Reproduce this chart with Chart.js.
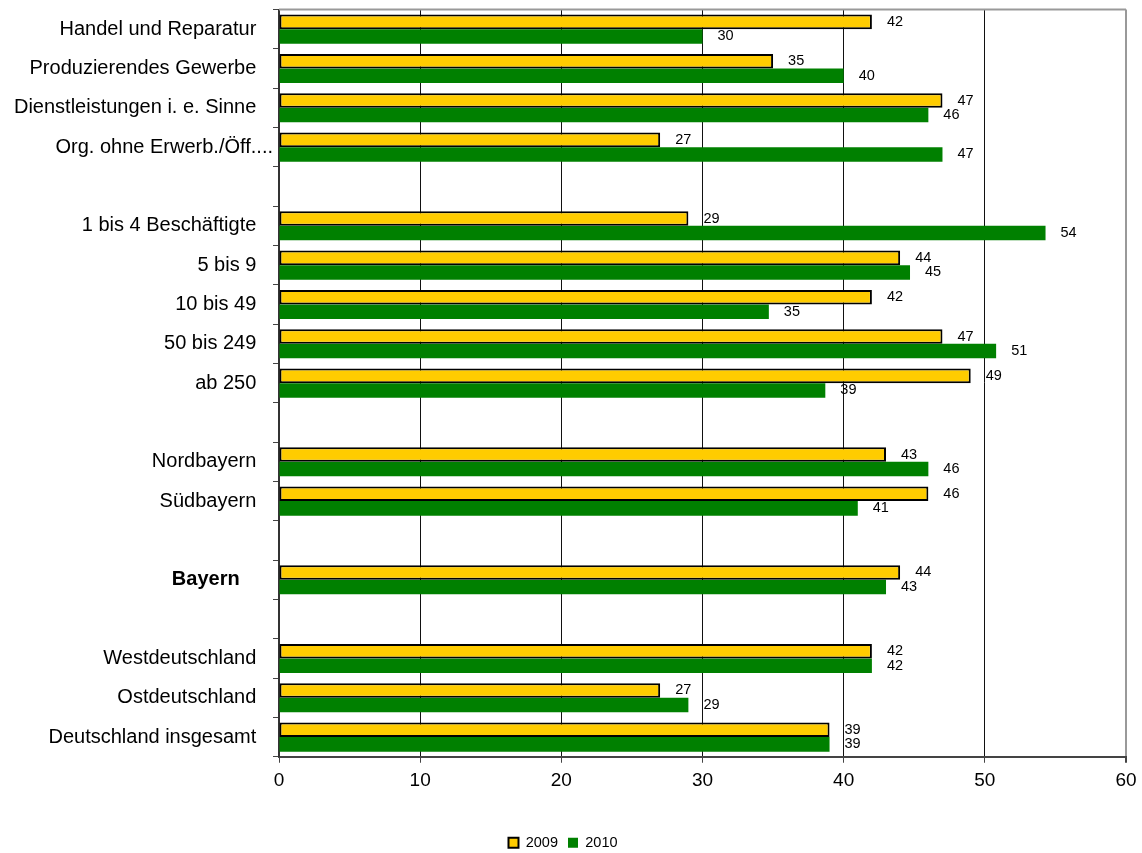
<!DOCTYPE html>
<html>
<head>
<meta charset="utf-8">
<script src="https://cdn.jsdelivr.net/npm/chart.js@4/dist/chart.umd.min.js"></script>
<style>
html,body{margin:0;padding:0;background:#fff;}
#wrap{width:1142px;height:853px;position:relative;}
</style>
</head>
<body>
<div id="wrap"><canvas id="c" width="1142" height="853"></canvas></div>
<script>
const categories = [
  "Handel und Reparatur   ",
  "Produzierendes Gewerbe   ",
  "Dienstleistungen i. e. Sinne   ",
  "Org. ohne Erwerb./Öff....",
  "",
  "1 bis 4 Beschäftigte   ",
  "5 bis 9   ",
  "10 bis 49   ",
  "50 bis 249   ",
  "ab 250   ",
  "",
  "Nordbayern   ",
  "Südbayern   ",
  "",
  "Bayern      ",
  "",
  "Westdeutschland   ",
  "Ostdeutschland   ",
  "Deutschland insgesamt   "
];
const seriesNames = ["2009", "2010"];
const values2009 = [42, 35, 47, 27, null, 29, 44, 42, 47, 49, null, 43, 46, null, 44, null, 42, 27, 39];
const values2010 = [30, 40, 46, 47, null, 54.3, 44.7, 34.7, 50.8, 38.7, null, 46, 41, null, 43, null, 42, 29, 39];
const xTicks = [0, 10, 20, 30, 40, 50, 60];
const boldCategory = "Bayern";

const FONT = "'Liberation Sans', Arial, sans-serif";

const valueLabels = {
  id: 'valueLabels',
  afterDatasetsDraw(chart) {
    const ctx = chart.ctx;
    ctx.save();
    ctx.font = "14.5px " + FONT;
    ctx.fillStyle = "#000";
    ctx.textAlign = "left";
    ctx.textBaseline = "middle";
    chart.data.datasets.forEach((ds, di) => {
      const meta = chart.getDatasetMeta(di);
      meta.data.forEach((el, i) => {
        const v = ds.data[i];
        if (v === null || v === undefined) return;
        ctx.fillText(String(Math.round(v)), el.x + 15, el.y);
      });
    });
    ctx.restore();
  }
};

const frame = {
  id: 'frame',
  beforeDatasetsDraw(chart) {
    const a = chart.chartArea;
    const ctx = chart.ctx;
    ctx.save();
    ctx.strokeStyle = "#999";
    ctx.lineWidth = 2;
    ctx.beginPath();
    ctx.moveTo(a.left, a.top);
    ctx.lineTo(a.right, a.top);
    ctx.stroke();
    ctx.restore();
  }
};

new Chart(document.getElementById('c'), {
  type: 'bar',
  data: {
    labels: categories,
    datasets: [
      {
        label: seriesNames[0],
        data: values2009,
        backgroundColor: '#FFCC00',
        borderColor: '#000000',
        borderWidth: 2,
        borderSkipped: false,
        categoryPercentage: 0.74,
        barPercentage: 1.0
      },
      {
        label: seriesNames[1],
        data: values2010,
        backgroundColor: '#008000',
        borderColor: '#008000',
        borderWidth: 0,
        categoryPercentage: 0.74,
        barPercentage: 1.0
      }
    ]
  },
  options: {
    indexAxis: 'y',
    responsive: false,
    animation: false,
    layout: { padding: { top: 9.5, right: 16, bottom: -7, left: 0 } },
    plugins: {
      legend: {
        position: 'bottom',
        labels: {
          boxWidth: 10,
          boxHeight: 10,
          padding: 10,
          color: '#000',
          font: { family: FONT, size: 14.5 }
        }
      },
      tooltip: { enabled: false }
    },
    scales: {
      x: {
        min: 0,
        max: 60,
        afterBuildTicks(scale) { scale.ticks = xTicks.map(v => ({ value: v })); },
        afterFit(scale) { scale.height = 68.75; scale.paddingLeft = 0; scale.paddingRight = 0; },
        border: { display: true, color: '#444', width: 2 },
        grid: {
          color: (c) => (c.tick && c.tick.value === 60) ? '#999' : '#111',
          lineWidth: (c) => (c.tick && c.tick.value === 60) ? 2 : 1,
          tickColor: '#444',
          tickLength: 6,
          drawTicks: true
        },
        ticks: {
          color: '#000',
          padding: 7,
          font: { family: FONT, size: 19 }
        }
      },
      y: {
        afterFit(scale) { scale.width = 279; scale.paddingTop = 0; scale.paddingBottom = 0; },
        border: { display: true, color: '#333', width: 2 },
        grid: {
          offset: true,
          drawOnChartArea: false,
          tickColor: '#444',
          tickLength: 6
        },
        ticks: {
          autoSkip: false,
          color: '#000',
          padding: 0,
          font: (c) => {
            const lbl = c.tick && c.tick.label ? String(c.tick.label).trim() : '';
            return { family: FONT, size: 20, weight: lbl === boldCategory ? 'bold' : 'normal' };
          }
        }
      }
    }
  },
  plugins: [valueLabels, frame]
});
</script>
</body>
</html>
